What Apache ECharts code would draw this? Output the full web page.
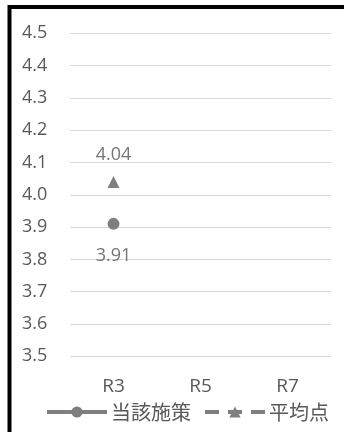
<!DOCTYPE html>
<html><head><meta charset="utf-8">
<script src="https://cdn.jsdelivr.net/npm/echarts@6/dist/echarts.min.js"></script>
<style>html,body{margin:0;padding:0;background:#fff}#c{width:344px;height:432px}</style>
</head><body><div id="c"></div>
<script>
const categories = ['R3', 'R5', 'R7'];
const seriesNames = ['当該施策', '平均点'];
const policyValues = [3.91, null, null];
const averageValues = [4.04, null, null];
const yMin = 3.5, yMax = 4.5, yStep = 0.1;

const FONT = "'Open Sans', 'Noto Sans CJK JP', sans-serif";
const chart = echarts.init(document.getElementById('c'), null, {renderer: 'canvas'});
chart.setOption({
  animation: false,
  backgroundColor: '#fff',
  graphic: [{
    type: 'rect', silent: true,
    shape: {x: 9.5, y: 7, width: 500, height: 600},
    style: {fill: 'none', stroke: '#000', lineWidth: 4}
  }],
  grid: {left: 70, right: 13, top: 33.3, bottom: 75.7},
  legend: {
    bottom: 5, left: 40,
    itemWidth: 60, itemHeight: 14, itemGap: 12,
    lineStyle: {width: 4},
    textStyle: {color: '#595959', fontSize: 20, fontFamily: "'Noto Sans CJK JP', sans-serif", padding: [0, 0, 0, -1]},
    data: seriesNames
  },
  xAxis: {
    type: 'category', data: categories,
    axisLine: {show: false}, axisTick: {show: false},
    axisLabel: {color: '#595959', fontSize: 19, fontFamily: FONT, margin: 21}
  },
  yAxis: {
    type: 'value', min: yMin, max: yMax, interval: yStep,
    axisLine: {show: false}, axisTick: {show: false},
    axisLabel: {color: '#595959', fontSize: 18, fontFamily: FONT, align: 'left', margin: 48,
      formatter: v => v.toFixed(1)},
    splitLine: {lineStyle: {color: '#d9d9d9', width: 1}}
  },
  series: [
    {
      name: seriesNames[0], type: 'line', data: policyValues.map(v => v == null ? '-' : v),
      symbol: 'circle', symbolSize: 12,
      itemStyle: {color: '#7f7f7f'},
      lineStyle: {color: '#7f7f7f', width: 4},
      label: {show: true, position: 'bottom', distance: 17, color: '#757575', fontSize: 18, fontFamily: FONT,
        formatter: p => p.value.toFixed(2)}
    },
    {
      name: seriesNames[1], type: 'line', data: averageValues.map(v => v == null ? '-' : v),
      symbol: 'triangle', symbolSize: 12,
      itemStyle: {color: '#7f7f7f'},
      lineStyle: {color: '#7f7f7f', width: 4, type: [14, 9]},
      label: {show: true, position: 'top', distance: 12, color: '#757575', fontSize: 18, fontFamily: FONT,
        formatter: p => p.value.toFixed(2)}
    }
  ]
});
</script></body></html>
